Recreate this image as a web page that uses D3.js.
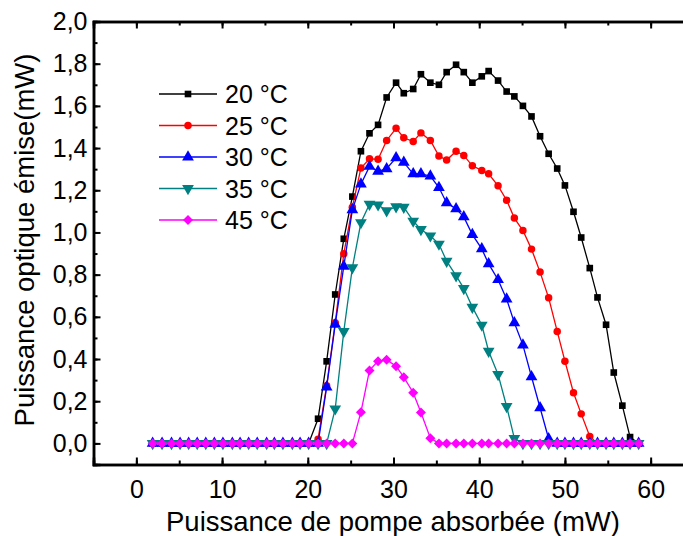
<!DOCTYPE html>
<html><head><meta charset="utf-8">
<script src="https://cdn.jsdelivr.net/npm/d3@7"></script>
<style>body{margin:0;background:#fff}svg{display:block}text{font-family:"Liberation Sans",Arial,sans-serif}</style>
</head><body><svg id="c" width="683" height="536"></svg>
<script>
const pump = [1.9,3.0,4.1,5.1,6.1,7.1,8.1,9.1,10.1,11.2,12.1,13.1,14.1,15.2,16.1,17.1,18.2,19.1,20.1,
  21.2,22.2,23.2,24.2,25.2,26.2,27.2,28.2,29.2,30.3,31.2,32.3,33.2,34.3,35.3,36.2,37.3,38.2,39.2,40.3,41.1,
  42.2,43.2,44.1,45.1,46.1,47.1,48.1,49.1,50.0,51.0,51.9,52.9,53.8,54.8,55.7,56.7,57.6,58.6];
const zeros19 = [0,0,0,0,0,0,0,0,0,0,0,0,0,0,0,0,0,0,0];
const t20 = zeros19.concat([0.117,0.389,0.706,0.97,1.17,1.385,1.47,1.51,1.64,1.71,1.66,1.68,1.75,1.71,1.70,1.76,1.795,1.76,1.71,1.74,1.765,
  1.72,1.668,1.645,1.60,1.55,1.456,1.373,1.303,1.223,1.098,0.976,0.831,0.692,0.5625,0.336,0.179,0.03,0]);
const t25 = zeros19.concat([0.02,0.273,0.572,0.899,1.12,1.305,1.349,1.347,1.436,1.494,1.449,1.431,1.472,1.436,1.362,1.343,1.385,1.365,1.316,1.294,1.278,
  1.221,1.153,1.068,1.009,0.921,0.812,0.69,0.531,0.39,0.24,0.14,0.033,0,0,0,0,0,0]);
const t30 = zeros19.concat([0,0.267,0.564,0.839,1.107,1.229,1.313,1.29,1.302,1.354,1.332,1.278,1.278,1.267,1.213,1.14,1.112,1.074,0.99,0.922,0.851,
  0.776,0.684,0.572,0.466,0.316,0.169,0.022,0,0,0,0,0,0,0,0,0,0,0]);
const t35 = zeros19.concat([0,0,0.164,0.531,0.833,1.047,1.134,1.131,1.103,1.122,1.12,1.054,1.014,0.984,0.945,0.864,0.795,0.735,0.646,0.561,0.437,
  0.327,0.175,0.024,0,0,0,0,0,0,0,0,0,0,0,0,0,0,0]);
const t45 = zeros19.concat([0,0,0,0,0,0.148,0.346,0.39,0.397,0.366,0.314,0.24,0.146,0.025,0,0,0,0,0,0,0,
  0,0,0,0,0,0,0,0,0,0,0,0,0,0,0,0,0,0]);
const seriesNames = ["20 °C","25 °C","30 °C","35 °C","45 °C"];
const seriesValues = [t20,t25,t30,t35,t45];
const seriesColors = ["#000000","#ff0000","#0000ff","#008080","#ff00ff"];
const seriesSymbols = [d3.symbolSquare,d3.symbolCircle,d3.symbolTriangle,d3.symbolTriangle,d3.symbolSquare];
const symbolSizes = [44,44,60,60,50];
const symbolRot = [0,0,0,180,45];
const xTicks = [0,10,20,30,40,50,60];
const yTicks = [0,0.2,0.4,0.6,0.8,1.0,1.2,1.4,1.6,1.8,2.0];
const xLabel = "Puissance de pompe absorbée (mW)";
const yLabel = "Puissance optique émise(mW)";

const svg = d3.select("#c");
const x = d3.scaleLinear().domain([-5,65]).range([93.5,693.5]);
const y = d3.scaleLinear().domain([-0.1,2.0]).range([464.5,21.5]);
const fmt = v => d3.format(".1f")(v).replace(".",",");

// series
seriesValues.forEach((vals,si)=>{
  const pts = pump.map((p,i)=>[p,vals[i]]);
  const g = svg.append("g");
  g.append("path").datum(pts)
    .attr("fill","none").attr("stroke",seriesColors[si]).attr("stroke-width",1.3)
    .attr("d",d3.line().x(d=>x(d[0])).y(d=>y(d[1])));
  g.selectAll("path.m").data(pts).join("path").attr("class","m")
    .attr("transform",d=>`translate(${x(d[0])},${y(d[1])}) rotate(${symbolRot[si]})`)
    .attr("d",d3.symbol().type(seriesSymbols[si]).size(symbolSizes[si]))
    .attr("fill",seriesColors[si]);
});

// axes
const axW = 2.5;
const xMinor = d3.range(-5,66,5);
const yMinor = d3.range(-0.1,2.001,0.1);
const gBottom = svg.append("g").attr("transform",`translate(0,${y.range()[0]})`)
  .call(d3.axisBottom(x).tickValues(xTicks).tickSize(-7).tickPadding(16).tickFormat(d3.format("d")));
const gBottomMinor = svg.append("g").attr("transform",`translate(0,${y.range()[0]})`)
  .call(d3.axisBottom(x).tickValues(xMinor).tickSize(-4).tickFormat(""));
const gTop = svg.append("g").attr("transform",`translate(0,${y.range()[1]})`)
  .call(d3.axisTop(x).tickValues(xTicks).tickSize(-7).tickFormat(""));
const gTopMinor = svg.append("g").attr("transform",`translate(0,${y.range()[1]})`)
  .call(d3.axisTop(x).tickValues(xMinor).tickSize(-4).tickFormat(""));
const gLeft = svg.append("g").attr("transform",`translate(${x.range()[0]},0)`)
  .call(d3.axisLeft(y).tickValues(yTicks).tickSize(-7).tickPadding(6).tickFormat(fmt));
const gLeftMinor = svg.append("g").attr("transform",`translate(${x.range()[0]},0)`)
  .call(d3.axisLeft(y).tickValues(yMinor).tickSize(-4).tickFormat(""));
[gBottom,gBottomMinor,gTop,gTopMinor,gLeft,gLeftMinor].forEach(g=>{
  g.select(".domain").attr("stroke","#000").attr("stroke-width",axW);
  g.selectAll(".tick line").attr("stroke","#000").attr("stroke-width",2);
  g.selectAll(".tick text").attr("fill","#000").style("font-size","25px");
});

// axis titles
svg.append("text").attr("x",393).attr("y",531).attr("text-anchor","middle")
  .style("font-size","27.5px").text(xLabel);
svg.append("text").attr("transform","translate(34,240) rotate(-90)").attr("text-anchor","middle")
  .style("font-size","27.5px").text(yLabel);

// legend
const lg = svg.append("g");
seriesNames.forEach((n,i)=>{
  const cy = 94 + i*31.5;
  lg.append("line").attr("x1",159).attr("x2",217).attr("y1",cy).attr("y2",cy)
    .attr("stroke",seriesColors[i]).attr("stroke-width",1.3);
  lg.append("path").attr("transform",`translate(188,${cy}) rotate(${symbolRot[i]})`)
    .attr("d",d3.symbol().type(seriesSymbols[i]).size(symbolSizes[i])).attr("fill",seriesColors[i]);
  lg.append("text").attr("x",225).attr("y",cy+9).style("font-size","25px").text(n);
});
</script></body></html>
